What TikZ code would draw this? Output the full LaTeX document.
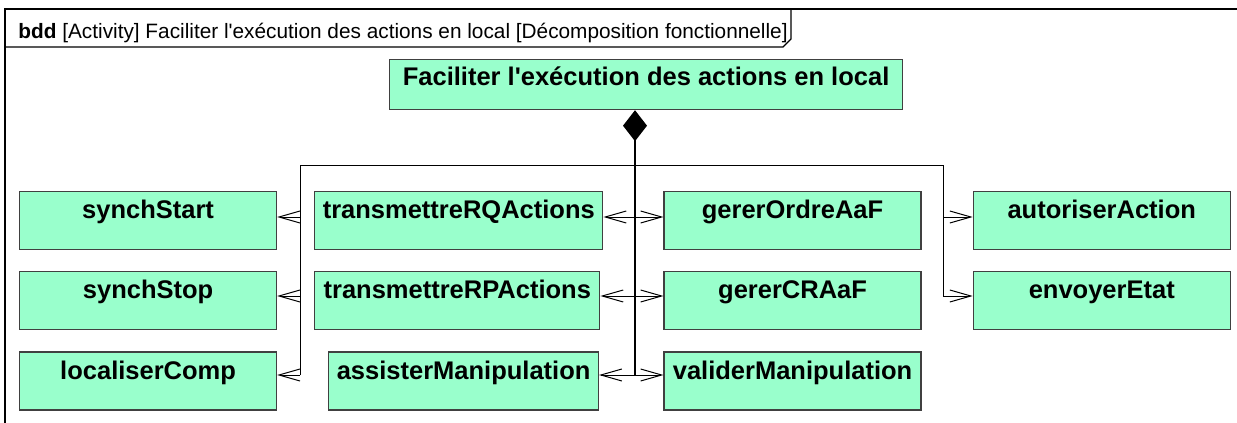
\documentclass[tikz,border=0pt]{standalone}
\usepackage{fontspec}
\setmainfont{Liberation Sans}
\usetikzlibrary{shapes,arrows.meta,positioning}
\definecolor{mint}{RGB}{153,255,204}
\definecolor{edge}{RGB}{64,64,64}

\begin{document}
\begin{tikzpicture}[x=0.5pt, y=-0.5pt, node distance=10.5pt,
	func/.style={draw=edge, fill=mint, rectangle, line width=0.6pt, minimum width=128.5pt, minimum height=29pt, inner ysep=0pt, inner xsep=4pt, text height=13.5pt, text depth=15.5pt, font=\fontsize{12.75pt}{15pt}\selectfont\bfseries},
	wire/.style={line width=0.5pt},
	owns/.style={wire, -{Straight Barb[length=10.5pt, width=6pt]}}]
	\useasboundingbox (0,0) rectangle (1237,423);
	\draw[line width=0.6pt] (5,423) -- (5,9) -- (1237,9);
	\draw[line width=0.6pt] (5,47) -- (783,47) -- (791,39) -- (791,9);
	\node[anchor=base west, inner sep=0pt, font=\fontsize{10.4pt}{12pt}\selectfont] (hdr) at (18,39) {\textbf{bdd} [Activity] Faciliter l\textquotesingle exécution des actions en local [Décomposition fonctionnelle]};
	\node[func, anchor=north west, minimum width=256.5pt, minimum height=25pt, text height=13pt, text depth=12pt] (main) at (389,59) {Faciliter l\textquotesingle exécution des actions en local};
	\node[func, anchor=north west] (synchStart) at (19,191) {synchStart};
	\node[func] (synchStop) [below=of synchStart] {synchStop};
	\node[func] (localiserComp) [below=of synchStop] {localiserComp};
	\node[func, minimum width=144pt] (tRQ) [right=18.5pt of synchStart] {transmettreRQActions};
	\node[func, minimum width=142.5pt] (tRP) [right=18.5pt of synchStop] {transmettreRPActions};
	\node[func, minimum width=134.5pt] (assister) [right=25.5pt of localiserComp] {assisterManipulation};
	\node[func] (gOA) [right=30pt of tRQ] {gererOrdreAaF};
	\node[func] (gCR) [below=of gOA] {gererCRAaF};
	\node[func] (valider) [below=of gCR] {validerManipulation};
	\node[func] (autoriser) [right=25.5pt of gOA] {autoriserAction};
	\node[func] (envoyer) [below=of autoriser] {envoyerEtat};
	\coordinate (jA1) at (300,217);
	\coordinate (jA2) at (300,296);
	\coordinate (jA3) at (300,375);
	\coordinate (jC1) at (635,217);
	\coordinate (jC2) at (635,296);
	\coordinate (jC3) at (635,375);
	\coordinate (jD1) at (943,217);
	\coordinate (jD2) at (943,296);
	\coordinate (bus) at (943,165);
	\draw[line width=1pt, {Diamond[length=15.5pt, width=12pt]}-] (jC1 |- main.south) -- (jC3);
	\draw[wire] (jA3) |- (bus) -- (jD2);
	\draw[owns] (jA1) -- (synchStart.east |- jA1);
	\draw[owns] (jA2) -- (synchStop.east |- jA2);
	\draw[owns] (jA3) -- (localiserComp.east |- jA3);
	\draw[owns] (jC1) -- (tRQ.east |- jC1);
	\draw[owns] (jC2) -- (tRP.east |- jC2);
	\draw[owns] (jC3) -- (assister.east |- jC3);
	\draw[owns] (jC1) -- (gOA.west |- jC1);
	\draw[owns] (jC2) -- (gCR.west |- jC2);
	\draw[owns] (jC3) -- (valider.west |- jC3);
	\draw[owns] (jD1) -- (autoriser.west |- jD1);
	\draw[owns] (jD2) -- (envoyer.west |- jD2);
\end{tikzpicture}
\end{document}
